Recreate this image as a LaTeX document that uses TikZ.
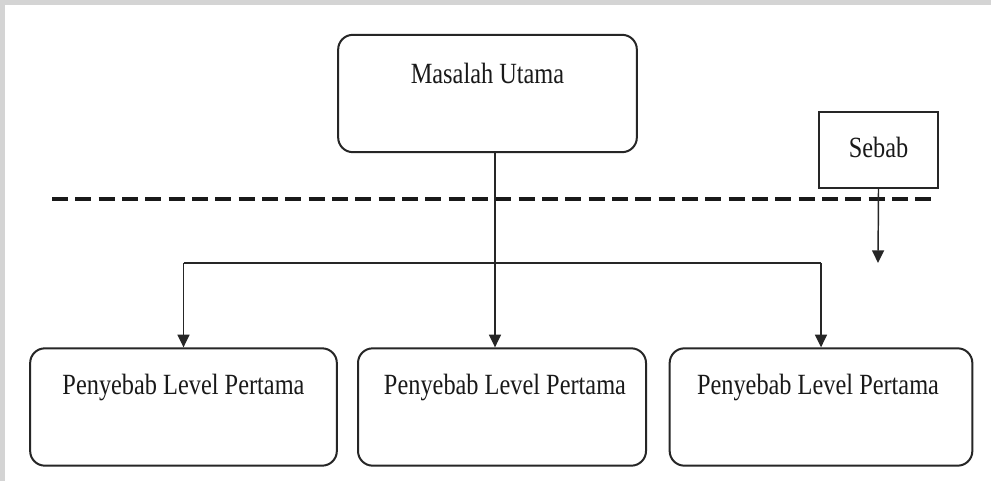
\documentclass[tikz,border=0pt]{standalone}
\usepackage{fontspec}
\setmainfont[FakeStretch=0.83]{Liberation Serif}
\usetikzlibrary{arrows.meta,calc}

\tikzset{
  roundbox/.style={draw=black!85, line width=1.5pt, rounded corners=11pt, fill=white,
    minimum width=#1, minimum height=88pt, inner sep=0pt},
  plainbox/.style={draw=black!85, line width=1.1pt, fill=white, inner sep=0pt},
  label text/.style={font=\fontsize{22}{24}\selectfont, text=black!90, inner sep=0pt},
  flow/.style={draw=black!85, line width=1.1pt, -{Triangle[width=9pt,length=9.5pt]}},
  bus/.style={draw=black!85, line width=1.1pt},
  divider/.style={draw=black!90, line width=3.2pt, dash pattern=on 12pt off 5.5pt}
}

\begin{document}
\begin{tikzpicture}[x=0.75pt, y=-0.75pt]
  % page frame
  \fill[black!17] (0,0) rectangle (991,481);
  \fill[white] (5,5) rectangle (991,481);
  \useasboundingbox (0,0) rectangle (991,481);

  % main problem
  \node[roundbox=224pt] (top) at (487.5,93.5) {};
  \node[label text] (topText) at (487.5,73) {Masalah Utama};

  % legend box
  \node[plainbox, minimum width=89pt, minimum height=57pt] (sebab) at (878.5,150) {};
  \node[label text] (sebabText) at (878.5,147) {Sebab};

  % dashed divider
  \coordinate (divL) at (52,199);
  \coordinate (divR) at (937,199);
  \draw[divider] (divL) -- (divR);

  % first-level causes
  \node[roundbox=230pt] (p1) at (183.5,407) {};
  \node[roundbox=216pt] (p2) at (502,407) {};
  \node[roundbox=227pt] (p3) at (821,407) {};
  \node[label text] (p1Text) at (183.5,387) {Penyebab Level Pertama};
  \node[label text] (p2Text) at (505,387) {Penyebab Level Pertama};
  \node[label text] (p3Text) at (818,387) {Penyebab Level Pertama};

  % connectors
  \coordinate (trunk) at ($(top.south)+(7.5,0)$);
  \coordinate (busy) at (495,263);
  \draw[flow] (trunk) -- (trunk |- p2.north);
  \draw[bus] (busy -| p1.north) -- (busy -| p3.north);
  \draw[flow] (busy -| p1.north) -- (p1.north);
  \draw[flow] (busy -| p3.north) -- (p3.north);

  % legend arrow
  \coordinate (sebabTip) at (878,263);
  \draw[flow] (sebab.south) -- (sebabTip);
\end{tikzpicture}
\end{document}
